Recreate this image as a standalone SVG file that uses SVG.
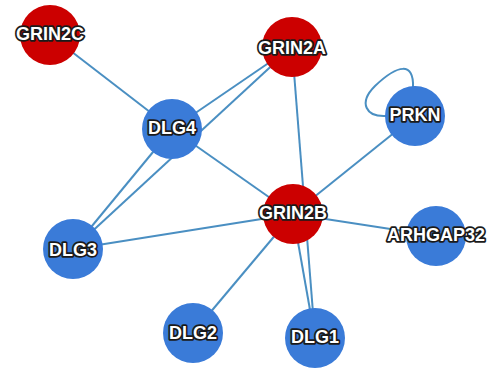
<svg xmlns="http://www.w3.org/2000/svg" width="491" height="368" viewBox="0 0 491 368">
<style>
.e{stroke:#4a8fc2;stroke-width:2;fill:none}
.r{fill:#cc0000}
.b{fill:#3a7bd8}
.t{font-family:"Liberation Sans",Arial,sans-serif;font-weight:bold;font-size:18px;fill:#ffffff;stroke:#1a1a1a;stroke-width:3.5;paint-order:stroke;stroke-linejoin:round;text-anchor:middle;dominant-baseline:central}
</style>
<rect width="491" height="368" fill="#ffffff"/>
<g id="edges">
<line class="e" x1="50" y1="35" x2="172" y2="129"/>
<line class="e" x1="172" y1="129" x2="292" y2="47"/>
<line class="e" x1="73" y1="249" x2="292" y2="47"/>
<line class="e" x1="73" y1="249" x2="172" y2="129"/>
<line class="e" x1="172" y1="129" x2="293" y2="214"/>
<line class="e" x1="73" y1="249" x2="293" y2="214"/>
<line class="e" x1="292" y1="47" x2="315" y2="338"/>
<line class="e" x1="293" y1="214" x2="315" y2="338"/>
<line class="e" x1="415" y1="116" x2="293" y2="214"/>
<line class="e" x1="293" y1="214" x2="436" y2="236"/>
<line class="e" x1="293" y1="214" x2="193" y2="333"/>
<path class="e" d="M413 87 C414 62 398 64 375 86 C358 103 366 117 386 116"/>
</g>
<g id="GRIN2C"><circle class="r" cx="50" cy="35" r="30"/><text class="t" x="50" y="34">GRIN2C</text></g>
<g id="GRIN2A"><circle class="r" cx="292" cy="47" r="30"/><text class="t" x="292" y="48">GRIN2A</text></g>
<g id="DLG4"><circle class="b" cx="172" cy="129" r="30"/><text class="t" x="172" y="128">DLG4</text></g>
<g id="PRKN"><circle class="b" cx="415" cy="116" r="30"/><text class="t" x="415" y="115">PRKN</text></g>
<g id="GRIN2B"><circle class="r" cx="293" cy="214" r="30"/><text class="t" x="293" y="213">GRIN2B</text></g>
<g id="DLG3"><circle class="b" cx="73" cy="249" r="30"/><text class="t" x="73" y="250">DLG3</text></g>
<g id="ARHGAP32"><circle class="b" cx="436" cy="236" r="30"/><text class="t" x="436" y="235">ARHGAP32</text></g>
<g id="DLG2"><circle class="b" cx="193" cy="333" r="30"/><text class="t" x="193" y="333">DLG2</text></g>
<g id="DLG1"><circle class="b" cx="315" cy="338" r="30"/><text class="t" x="315" y="337">DLG1</text></g>
</svg>
